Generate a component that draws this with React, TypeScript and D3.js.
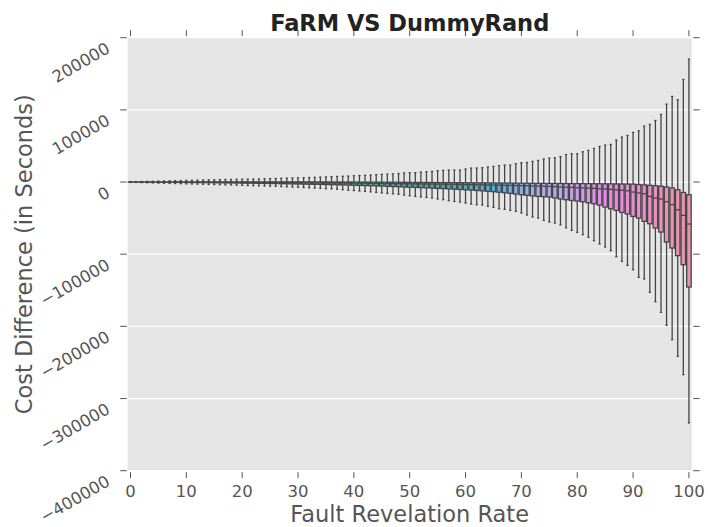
import React from 'react';
import * as d3 from 'd3';

const W = 708;
const H = 527;

// categories: fault revelation rate 0..100
const categories: number[] = d3.range(0, 101);
const xTickValues = [0, 10, 20, 30, 40, 50, 60, 70, 80, 90, 100];
const yTickValues = [-400000, -300000, -200000, -100000, 0, 100000, 200000];

const whiskerHigh = [
  300, 500, 700, 900, 1100, 1300, 1500, 1700, 1900, 2100,
  2300, 2500, 2700, 2800, 3000, 3200, 3300, 3500, 3600, 3800,
  3900, 4000, 4100, 4300, 4500, 4700, 4900, 5100, 5400, 5600,
  5900, 6100, 6300, 6500, 6800, 7100, 7400, 7700, 8000, 8300,
  8700, 9000, 9300, 9700, 10300, 10700, 11000, 11300, 11800, 12500,
  12900, 12900, 13800, 14300, 14700, 15700, 16100, 16600, 16600, 16600,
  18000, 19400, 19400, 19800, 20800, 21600, 22600, 23500, 23500, 25300,
  26700, 27100, 28500, 29900, 31900, 33200, 33700, 35300, 38000, 39200,
  39200, 42000, 43800, 46600, 49300, 51200, 52100, 58200, 62300, 64600,
  68700, 71000, 77500, 79800, 85300, 93600, 108000, 118600, 114000, 142100,
  170400,
];

const q3 = [
  30, 50, 60, 80, 90, 100, 110, 120, 130, 140,
  150, 160, 170, 180, 190, 200, 200, 210, 210, 220,
  220, 220, 230, 230, 230, 230, 230, 220, 220, 210,
  200, 190, 180, 160, 140, 120, 100, 80, 50, 20,
  -10, -40, -70, -100, -140, -180, -220, -260, -300, -350,
  -400, -450, -500, -550, -600, -650, -700, -760, -820, -880,
  -940, -1000, -1060, -1120, -1180, -1240, -1300, -1360, -1420, -1480,
  -1540, -1600, -1660, -1720, -1780, -1840, -1900, -1960, -2020, -2080,
  -2140, -2200, -2260, -2320, -2380, -2440, -2500, -2600, -2700, -2800,
  -2900, -3500, -4000, -4600, -5200, -5800, -6900, -8300, -10700, -14500,
  -17600,
];

const median = [
  -10, -20, -30, -40, -50, -60, -70, -80, -90, -100,
  -120, -140, -160, -180, -200, -230, -260, -290, -320, -350,
  -380, -410, -450, -490, -530, -570, -610, -660, -710, -760,
  -810, -870, -930, -990, -1050, -1120, -1190, -1260, -1340, -1420,
  -1500, -1580, -1660, -1750, -1840, -1930, -2020, -2110, -2200, -2300,
  -2400, -2500, -2600, -2700, -2800, -2900, -3000, -3100, -3200, -3350,
  -3500, -3650, -3800, -3950, -4100, -4250, -4400, -4550, -4700, -4850,
  -5000, -5200, -5400, -5600, -5800, -6050, -6300, -6900, -7200, -7500,
  -7900, -8200, -8500, -8800, -9300, -9700, -10200, -10800, -11400, -12000,
  -13900, -15200, -16200, -19900, -22200, -23500, -27300, -31400, -38400, -46200,
  -58200,
];

const q1 = [
  -50, -100, -150, -200, -250, -300, -350, -400, -450, -500,
  -600, -650, -700, -800, -850, -950, -1050, -1150, -1250, -1350,
  -1500, -1600, -1700, -1800, -1900, -2000, -2100, -2250, -2400, -2550,
  -2700, -2850, -3000, -3150, -3300, -3450, -3600, -3800, -4000, -4200,
  -4500, -4700, -4900, -5100, -5300, -5600, -5900, -6200, -6500, -6900,
  -7200, -7500, -7800, -8100, -8400, -8800, -9100, -9500, -9900, -10300,
  -10700, -11200, -11700, -12200, -12800, -13400, -14100, -14900, -15700, -16600,
  -17600, -18400, -19200, -19900, -20400, -20800, -22000, -23500, -24500, -25500,
  -26300, -27300, -28700, -30100, -31900, -34600, -37000, -39300, -42100, -44300,
  -47600, -49900, -54500, -57800, -63700, -69300, -83100, -91400, -102000, -114500,
  -145400,
];

const whiskerLow = [
  -300, -500, -800, -1000, -1200, -1500, -1700, -1900, -2100, -2300,
  -2500, -2700, -2900, -3100, -3300, -3500, -3700, -3900, -4100, -4400,
  -4600, -4900, -5100, -5300, -5500, -5800, -6000, -6300, -6600, -6900,
  -7300, -7600, -8000, -8400, -8800, -9200, -9500, -10100, -10700, -11300,
  -11800, -12400, -13000, -13600, -14400, -15100, -15800, -16400, -17100, -18000,
  -19000, -19900, -20800, -21300, -22200, -23500, -24500, -25900, -26900, -27700,
  -29100, -30500, -31400, -31900, -33800, -35200, -37000, -37900, -39300, -40700,
  -42900, -45700, -48500, -49900, -53200, -55400, -56800, -59300, -63500, -67000,
  -69800, -73000, -76700, -81300, -85900, -90000, -95100, -103500, -110000, -115500,
  -121500, -132100, -134300, -152900, -165800, -180600, -198600, -218400, -241500, -266900,
  -333800,
];

// ---- HUSL (HSLuv) palette, as seaborn's husl_palette ----
const M = [
  [3.240969941904521, -1.537383177570093, -0.498610760293],
  [-0.96924363628087, 1.87596750150772, 0.041555057407175],
  [0.055630079696993, -0.20397695888897, 1.056971514242878],
];
const KAPPA = 903.2962962962963;
const EPS = 0.0088564516790356308;
const REF_U = 0.19783000664283681;
const REF_V = 0.468319994938791;

function getBounds(L: number): [number, number][] {
  const sub1 = Math.pow(L + 16, 3) / 1560896;
  const sub2 = sub1 > EPS ? sub1 : L / KAPPA;
  const res: [number, number][] = [];
  for (const [m1, m2, m3] of M) {
    for (const t of [0, 1]) {
      const top1 = (284517 * m1 - 94839 * m3) * sub2;
      const top2 = (838422 * m3 + 769860 * m2 + 731718 * m1) * L * sub2 - 769860 * t * L;
      const bottom = (632260 * m3 - 126452 * m2) * sub2 + 126452 * t;
      res.push([top1 / bottom, top2 / bottom]);
    }
  }
  return res;
}
function maxChroma(L: number, Hh: number) {
  const hrad = (Hh / 360) * Math.PI * 2;
  let min = Infinity;
  for (const [m, b] of getBounds(L)) {
    const len = b / (Math.sin(hrad) - m * Math.cos(hrad));
    if (len >= 0) min = Math.min(min, len);
  }
  return min;
}
function huslToRgb(Hh: number, S: number, L: number): number[] {
  const C = (maxChroma(L, Hh) / 100) * S;
  const hrad = (Hh / 180) * Math.PI;
  const U = Math.cos(hrad) * C;
  const V = Math.sin(hrad) * C;
  const Y = L <= 8 ? L / KAPPA : Math.pow((L + 16) / 116, 3);
  const varU = U / (13 * L) + REF_U;
  const varV = V / (13 * L) + REF_V;
  const X = (9 * Y * varU) / (4 * varV);
  const Z = (9 * Y - 15 * varV * Y - varV * X) / (3 * varV);
  return M.map((r) => r[0] * X + r[1] * Y + r[2] * Z).map((c) => {
    const v = c <= 0.0031308 ? 12.92 * c : 1.055 * Math.pow(c, 1 / 2.4) - 0.055;
    return Math.max(0, Math.min(1, v));
  });
}

const n = categories.length;
const rawPalette = categories.map((_, i) => {
  const h = (((i / n) + 0.01) % 1) * 359;
  return huslToRgb(h, 0.9 * 99, 0.7 * 99);
});
const boxColors = rawPalette.map((c) => {
  const hsl = d3.hsl(d3.rgb(c[0] * 255, c[1] * 255, c[2] * 255));
  hsl.s *= 0.75;
  return hsl.formatHex();
});
const minLight = d3.min(rawPalette, (c) => (Math.max(...c) + Math.min(...c)) / 2) as number;
const lum = Math.round(minLight * 0.6 * 255);
const gray = d3.rgb(lum, lum, lum).formatHex();

const fmt = (v: number) => (v < 0 ? '\u2212' + Math.abs(v) : String(v));

export default function App() {
  const left = 127.7;
  const right = 691.7;
  const top = 37.7;
  const bottom = 470.7;
  const x = d3.scaleLinear().domain([-0.5, 100.5]).range([left, right]);
  const y = d3.scaleLinear().domain([-400000, 200000]).range([bottom, top]);
  const step = x(1) - x(0);
  const bw = step * 0.8;
  const cw = bw * 0.5;
  const lw = 1.3;
  const tickColor = '#555555';
  const font = 'DejaVu Sans, sans-serif';

  return (
    <svg width={W} height={H} style={{ position: 'absolute', left: 0, top: 0 }} fontFamily={font}>
      <rect x={0} y={0} width={W} height={H} fill="#ffffff" />
      <rect x={left} y={top} width={right - left} height={bottom - top} fill="#e5e5e5" />
      {yTickValues.map((v) => (
        <line key={'g' + v} x1={left} x2={right} y1={y(v)} y2={y(v)} stroke="#ffffff" strokeWidth={1.2} />
      ))}
      {/* boxes */}
      {categories.map((c, i) => (
        <rect
          key={'b' + c}
          x={x(c) - bw / 2}
          y={y(q3[i])}
          width={bw}
          height={Math.max(0.01, y(q1[i]) - y(q3[i]))}
          fill={boxColors[i]}
          stroke={gray}
          strokeWidth={lw}
        />
      ))}
      {/* whiskers, caps, medians */}
      {categories.map((c, i) => (
        <g key={'w' + c} stroke={gray} strokeWidth={lw}>
          <line x1={x(c)} x2={x(c)} y1={y(q3[i])} y2={y(whiskerHigh[i])} />
          <line x1={x(c)} x2={x(c)} y1={y(q1[i])} y2={y(whiskerLow[i])} />
          <line x1={x(c) - cw / 2} x2={x(c) + cw / 2} y1={y(whiskerHigh[i])} y2={y(whiskerHigh[i])} />
          <line x1={x(c) - cw / 2} x2={x(c) + cw / 2} y1={y(whiskerLow[i])} y2={y(whiskerLow[i])} />
          <line x1={x(c) - bw / 2} x2={x(c) + bw / 2} y1={y(median[i])} y2={y(median[i])} />
        </g>
      ))}
      {/* ticks */}
      {xTickValues.map((v) => (
        <g key={'xt' + v} stroke={tickColor} strokeWidth={1}>
          <line x1={x(v)} x2={x(v)} y1={bottom + 1.5} y2={bottom + 7.5} />
          <line x1={x(v)} x2={x(v)} y1={top - 1.5} y2={top - 7.5} />
        </g>
      ))}
      {yTickValues.map((v) => (
        <g key={'yt' + v} stroke={tickColor} strokeWidth={1}>
          <line x1={left - 7.5} x2={left - 1} y1={y(v)} y2={y(v)} />
          <line x1={right + 1.5} x2={right + 8} y1={y(v)} y2={y(v)} />
        </g>
      ))}
      {xTickValues.map((v) => (
        <text key={'xl' + v} x={x(v)} y={497} textAnchor="middle" fontSize={16.5} fill={tickColor}>
          {v}
        </text>
      ))}
      {yTickValues.map((v) => (
        <text
          key={'yl' + v}
          transform={`translate(111,${y(v) + 14}) rotate(-30)`}
          textAnchor="end"
          fontSize={16.5}
          fill={tickColor}
        >
          {fmt(v)}
        </text>
      ))}
      <text x={(left + right) / 2} y={31} textAnchor="middle" fontSize={22.5} fontWeight="bold" fill="#222222">
        FaRM VS DummyRand
      </text>
      <text x={(left + right) / 2} y={522} textAnchor="middle" fontSize={22.5} fill={tickColor}>
        Fault Revelation Rate
      </text>
      <text
        transform={`translate(31.5,${(top + bottom) / 2}) rotate(-90)`}
        textAnchor="middle"
        fontSize={22.5}
        fill={tickColor}
      >
        Cost Difference (in Seconds)
      </text>
    </svg>
  );
}
